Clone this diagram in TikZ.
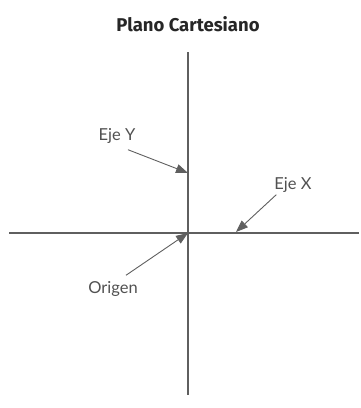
\documentclass[tikz,border=0pt]{standalone}
\usepackage{fontspec}
\setmainfont{Fira Sans}
\newfontfamily\rotulo{Lato}
\usetikzlibrary{arrows.meta}
\definecolor{ejegris}{HTML}{5F5F5F}
\tikzset{
  etiqueta/.style={text=ejegris!85!black, font=\rotulo\fontsize{16.5}{18}\selectfont, inner sep=1pt},
  flecha/.style={draw=ejegris, line width=0.9pt, -{Triangle[length=12pt,width=9pt]}}
}
\begin{document}
\begin{tikzpicture}[x=1pt, y=-1pt]
        \useasboundingbox (0, 0) rectangle (361, 408);
        % ejes
        \draw[ejegris, line width=1.1pt] (9, 233) -- (359, 233);
        \draw[ejegris, line width=1.1pt] (188, 52) -- (188, 395);
        \node[font=\bfseries\fontsize{18.5}{20}\selectfont, text=black!85] (titulo) at (188, 24) {Plano Cartesiano};
        % etiquetas
        \node[etiqueta] (ejey) at (117, 136) {Eje Y};
        \node[etiqueta] (ejex) at (293, 185) {Eje X};
        \node[etiqueta] (origen) at (113, 289) {Origen};
        \coordinate (py) at (188, 173);
        \coordinate (px) at (236, 232);
        \coordinate (po) at (188, 233);
        \draw[flecha] (ejey.south) ++(11, 5) -- (py);
        \draw[flecha] (ejex.south west) ++(3, 1) -- (px);
        \draw[flecha] (origen.north) ++(13, -5) -- (po);
    \end{tikzpicture}
\end{document}
